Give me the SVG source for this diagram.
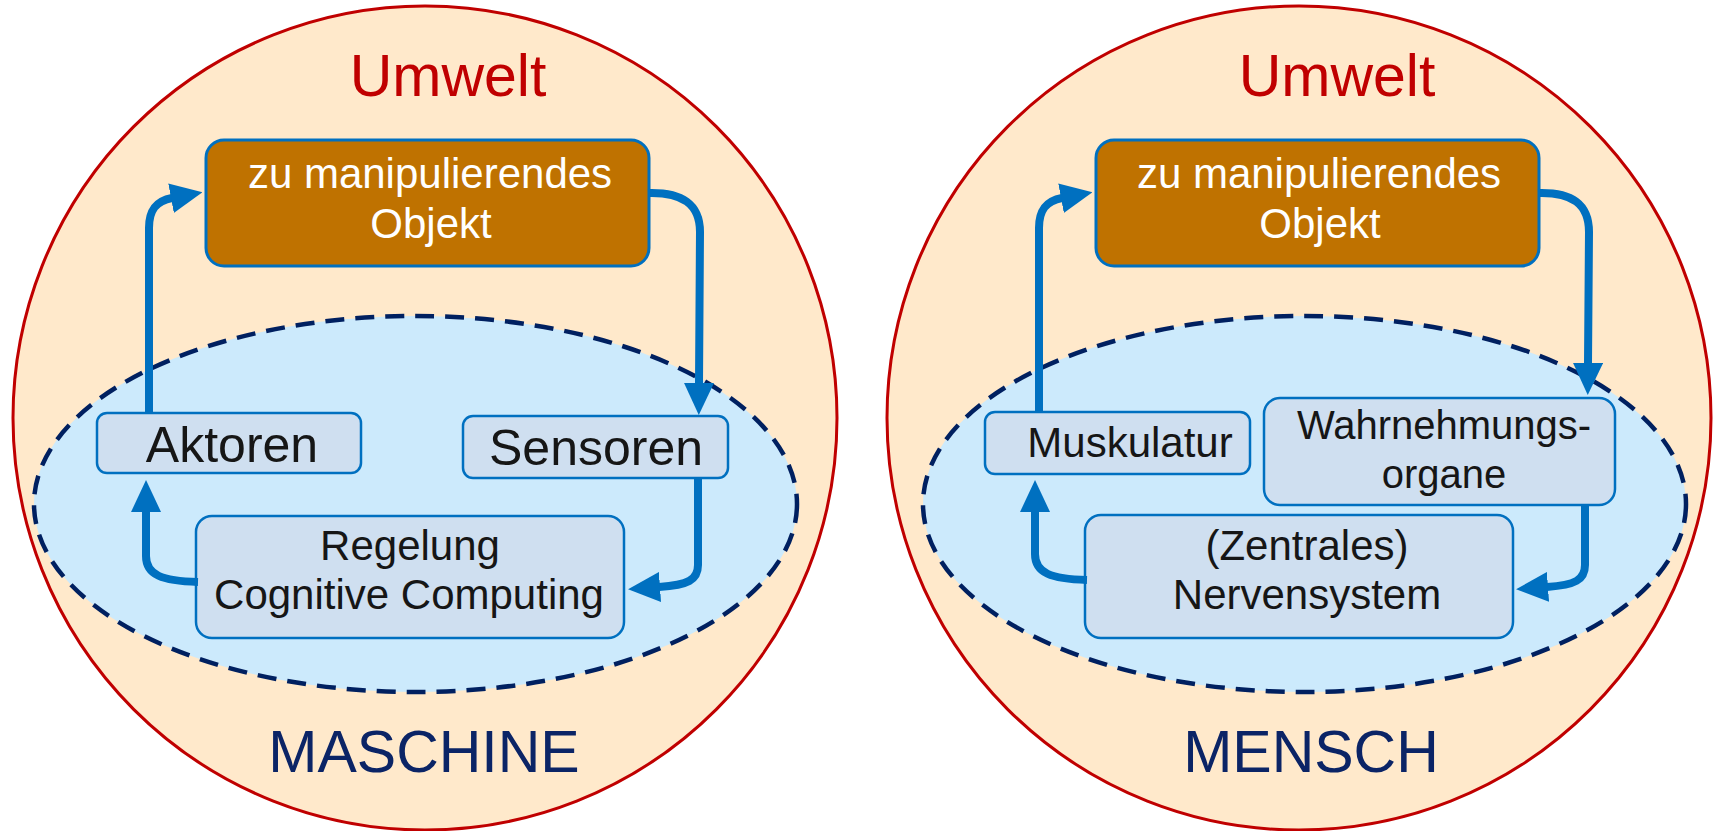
<svg xmlns="http://www.w3.org/2000/svg" width="1713" height="831" viewBox="0 0 1713 831">
  <defs>
    <style>
      .world { fill: #ffe9cb; stroke: #c00000; stroke-width: 3; }
      .system { fill: #cceafc; stroke: #002060; stroke-width: 4.5; stroke-dasharray: 19 11; }
      .obj { fill: #bf7200; stroke: #0070c0; stroke-width: 3; }
      .box { fill: #cfdff0; stroke: #0070c0; stroke-width: 2.5; }
      .title { font-family: "Liberation Sans", Arial, sans-serif; font-size: 59px; text-anchor: middle; }
      .red { fill: #c00000; }
      .navy { fill: #0b2466; }
      .t { font-family: "Liberation Sans", Arial, sans-serif; text-anchor: middle; fill: #161616; }
      .w { fill: #ffffff; }
      .flow { fill: none; stroke: #0070c0; stroke-width: 8; marker-end: url(#head); }
    </style>
    <marker id="head" viewBox="0 0 32 30" markerWidth="32" markerHeight="30" markerUnits="userSpaceOnUse" refX="1" refY="15" orient="auto">
      <path d="M0,0 L32,15 L0,30 z" fill="#0070c0"/>
    </marker>
  </defs>

  <!-- environment circles -->
  <g id="umwelt-maschine">
    <circle class="world" cx="425" cy="418" r="412"/>
    <text class="title red" x="448" y="96">Umwelt</text>
    <text class="title navy" x="424" y="772" font-size="58">MASCHINE</text>
  </g>
  <g id="umwelt-mensch">
    <circle class="world" cx="1299" cy="418" r="412"/>
    <text class="title red" x="1337" y="96">Umwelt</text>
    <text class="title navy" x="1311" y="772" font-size="58">MENSCH</text>
  </g>

  <!-- system boundaries -->
  <g id="system-maschine">
    <ellipse class="system" cx="415.5" cy="504" rx="381.5" ry="188"/>
  </g>
  <g id="system-mensch">
    <ellipse class="system" cx="1304.5" cy="504" rx="381.5" ry="188"/>
  </g>

  <!-- machine loop nodes -->
  <g id="objekt-maschine">
    <rect class="obj" x="206" y="140" width="443" height="126" rx="18"/>
    <text class="t w" x="430" y="188" font-size="42">zu manipulierendes</text>
    <text class="t w" x="431" y="238" font-size="42">Objekt</text>
  </g>
  <g id="aktoren">
    <rect class="box" x="97" y="413" width="264" height="60" rx="10"/>
    <text class="t" x="232" y="462" font-size="50">Aktoren</text>
  </g>
  <g id="sensoren">
    <rect class="box" x="463" y="416" width="265" height="62" rx="10"/>
    <text class="t" x="596" y="465" font-size="50">Sensoren</text>
  </g>
  <g id="regelung">
    <rect class="box" x="196" y="516" width="428" height="122" rx="16"/>
    <text class="t" x="410" y="560" font-size="42">Regelung</text>
    <text class="t" x="409" y="609" font-size="42">Cognitive Computing</text>
  </g>

  <!-- human loop nodes -->
  <g id="objekt-mensch">
    <rect class="obj" x="1096" y="140" width="443" height="126" rx="18"/>
    <text class="t w" x="1319" y="188" font-size="42">zu manipulierendes</text>
    <text class="t w" x="1320" y="238" font-size="42">Objekt</text>
  </g>
  <g id="muskulatur">
    <rect class="box" x="985" y="412" width="265" height="62" rx="10"/>
    <text class="t" x="1130" y="457" font-size="42">Muskulatur</text>
  </g>
  <g id="wahrnehmungsorgane">
    <rect class="box" x="1264" y="398" width="351" height="107" rx="16"/>
    <text class="t" x="1444" y="439" font-size="40">Wahrnehmungs-</text>
    <text class="t" x="1444" y="488" font-size="40">organe</text>
  </g>
  <g id="nervensystem">
    <rect class="box" x="1085" y="515" width="428" height="123" rx="16"/>
    <text class="t" x="1307" y="560" font-size="42">(Zentrales)</text>
    <text class="t" x="1307" y="609" font-size="42">Nervensystem</text>
  </g>

  <!-- control loop connectors -->
  <g id="connectors">
    <path class="flow" d="M149,413 L149,228 C149,210 156,201 172,198"/>
    <path class="flow" d="M648,193 C682,192 700,204 700,232 L699,384"/>
    <path class="flow" d="M698,478 L698,565 C698,580 688,585 659,587"/>
    <path class="flow" d="M198,582 C162,581 146,575 146,556 L146,511"/>

    <path class="flow" d="M1039,412 L1039,228 C1039,210 1046,201 1062,198"/>
    <path class="flow" d="M1538,193 C1572,192 1589,204 1589,232 L1588,364"/>
    <path class="flow" d="M1585,505 L1585,565 C1585,580 1575,585 1547,587"/>
    <path class="flow" d="M1087,580 C1051,579 1035,573 1035,554 L1035,511"/>
  </g>
</svg>
